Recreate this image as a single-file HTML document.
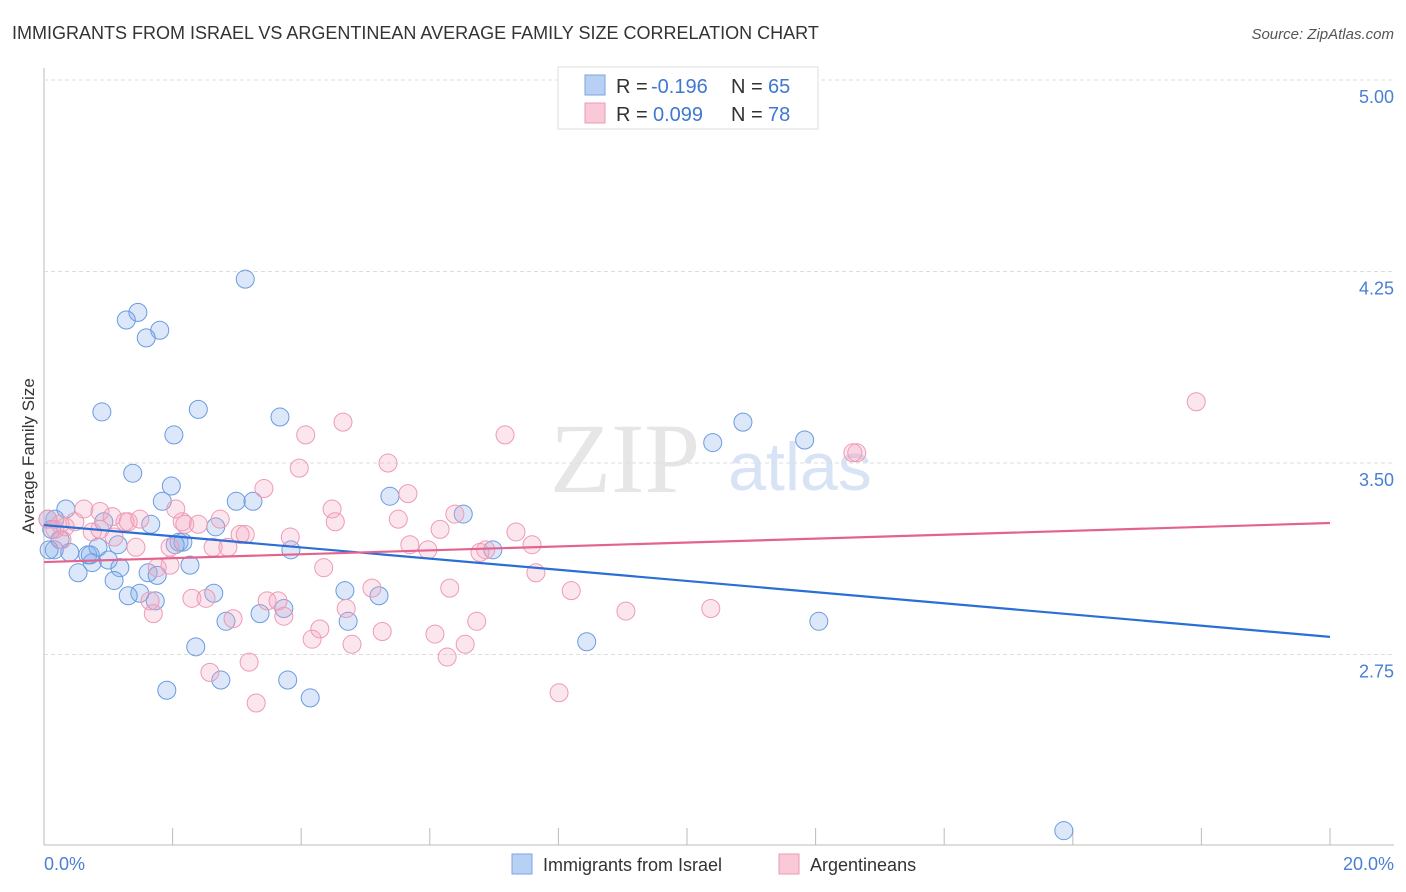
<!DOCTYPE html>
<html><head><meta charset="utf-8"><style>
body{margin:0;background:#fff;font-family:"Liberation Sans",sans-serif}
svg{display:block}
</style></head><body>
<svg id="chart" width="1406" height="892">
<text x="12" y="39" font-size="18" fill="#333">IMMIGRANTS FROM ISRAEL VS ARGENTINEAN AVERAGE FAMILY SIZE CORRELATION CHART</text>
<text x="1394" y="39" font-size="15" fill="#555" text-anchor="end" font-style="italic">Source: ZipAtlas.com</text>
<text x="625" y="492" font-size="100" fill="#e6e6e6" font-family="Liberation Serif,serif" text-anchor="middle">ZIP</text>
<text x="800" y="490" font-size="68" fill="#d8e4f5" text-anchor="middle">atlas</text>
<g id="grid"></g><g id="pts"></g><g id="lines"></g>
<text transform="translate(34,456) rotate(-90)" font-size="17" fill="#333" text-anchor="middle">Average Family Size</text>
<text x="44" y="870" font-size="18" fill="#4a7fd4">0.0%</text>
<text x="1394" y="870" font-size="18" fill="#4a7fd4" text-anchor="end">20.0%</text>
<g>
<rect x="558" y="67" width="260" height="62" fill="#fff" stroke="#ddd"/>
<rect x="585" y="75" width="20" height="20" fill="#b8d0f3" stroke="#7ba3e0"/>
<rect x="585" y="103" width="20" height="20" fill="#f9c9d7" stroke="#ec9ab4"/>
<text x="616" y="93" font-size="20" fill="#333">R =</text>
<text x="651" y="93" font-size="20" fill="#3f78d0">-0.196</text>
<text x="731" y="93" font-size="20" fill="#333">N =</text>
<text x="768" y="93" font-size="20" fill="#3f78d0">65</text>
<text x="616" y="121" font-size="20" fill="#333">R =</text>
<text x="653" y="121" font-size="20" fill="#3f78d0">0.099</text>
<text x="731" y="121" font-size="20" fill="#333">N =</text>
<text x="768" y="121" font-size="20" fill="#3f78d0">78</text>
</g>
<g>
<rect x="512" y="854" width="20" height="20" fill="#b8d0f3" stroke="#7ba3e0"/>
<text x="543" y="871" font-size="18" fill="#333">Immigrants from Israel</text>
<rect x="779" y="854" width="20" height="20" fill="#f9c9d7" stroke="#ec9ab4"/>
<text x="810" y="871" font-size="18" fill="#333">Argentineans</text>
</g>
</svg>
<script>
const yTicks=[5.00,4.25,3.50,2.75];
const xTicks=[0,2,4,6,8,10,12,14,16,18,20];
const israelX=[3.13,1.46,1.28,1.80,1.59,0.90,2.40,2.02,3.67,1.38,1.98,1.84,2.99,3.25,5.38,6.52,0.34,0.17,0.93,1.66,2.67,2.10,2.16,3.84,6.98,10.40,10.87,11.83,0.16,0.40,0.68,0.84,1.15,0.75,1.00,1.18,0.53,1.62,2.27,1.09,1.49,1.31,1.73,2.64,4.68,5.21,3.36,3.73,2.83,4.73,8.44,12.05,2.36,1.91,2.75,3.79,4.14,15.86,0.12,0.25,0.06,0.72,0.08,2.04,1.76];
const israelY=[4.22,4.09,4.06,4.02,3.99,3.70,3.71,3.61,3.68,3.46,3.41,3.35,3.35,3.35,3.37,3.30,3.32,3.28,3.27,3.26,3.25,3.19,3.19,3.16,3.16,3.58,3.66,3.59,3.16,3.15,3.14,3.17,3.18,3.11,3.12,3.09,3.07,3.07,3.10,3.04,2.99,2.98,2.96,2.99,3.00,2.98,2.91,2.93,2.88,2.88,2.80,2.88,2.78,2.61,2.65,2.65,2.58,2.06,3.24,3.20,3.28,3.14,3.16,3.18,3.06];
const argX=[17.92,4.65,4.07,7.17,3.97,5.35,3.42,5.66,4.48,6.39,4.53,5.51,6.16,7.34,7.59,6.87,5.69,5.97,12.64,12.58,0.06,0.25,0.48,0.62,0.87,1.06,1.26,1.31,0.28,0.75,1.09,1.43,1.96,2.15,2.19,2.40,2.05,2.63,2.86,3.13,2.74,3.83,4.35,1.96,1.76,1.65,1.70,2.30,2.52,2.94,3.47,3.64,3.73,4.70,5.10,6.31,8.20,9.05,10.37,4.29,4.17,4.79,5.26,6.08,6.55,6.73,6.27,2.58,3.19,3.30,8.01,7.65,0.17,0.33,0.87,1.49,3.05,6.78];
const argY=[3.74,3.66,3.61,3.61,3.48,3.50,3.40,3.38,3.32,3.30,3.27,3.28,3.24,3.23,3.18,3.16,3.18,3.16,3.54,3.54,3.28,3.26,3.27,3.32,3.31,3.29,3.27,3.27,3.20,3.23,3.21,3.17,3.17,3.27,3.26,3.26,3.32,3.17,3.17,3.22,3.28,3.21,3.09,3.10,3.09,2.96,2.91,2.97,2.97,2.89,2.96,2.96,2.90,2.93,3.01,3.01,3.00,2.92,2.93,2.85,2.81,2.79,2.84,2.83,2.79,2.88,2.74,2.68,2.72,2.56,2.60,3.07,3.24,3.25,3.24,3.28,3.22,3.15];
const israelTrend=[3.257,2.819];
const argTrend=[3.112,3.265];
const X=v=>44+v/20*1286;
const Y=v=>80+(5-v)/0.75*191.5;
const NS="http://www.w3.org/2000/svg";
function mk(tag,attrs,parent){const e=document.createElementNS(NS,tag);for(const k in attrs)e.setAttribute(k,attrs[k]);parent.appendChild(e);return e;}
const grid=document.getElementById('grid');
mk('line',{x1:44,y1:68,x2:44,y2:845,stroke:'#bbb'},grid);
mk('line',{x1:44,y1:845,x2:1394,y2:845,stroke:'#bbb'},grid);
yTicks.forEach(t=>{
  const l=mk('line',{x1:44,y1:Y(t),x2:1394,y2:Y(t),stroke:'#ddd','stroke-dasharray':'4,3'},grid);
  
  
  const tx=mk('text',{x:1394,y:Y(t)+23,'font-size':18,fill:'#4a7fd4','text-anchor':'end'},grid);
  tx.textContent=t.toFixed(2);
  
  
});
xTicks.forEach(t=>{
  const l=mk('line',{x1:X(t),y1:828,x2:X(t),y2:845,stroke:'#bbb'},grid);
  
  
});
const pts=document.getElementById('pts');
israelX.forEach((v,i)=>{
  const c=mk('circle',{cx:X(v),cy:Y(israelY[i]),r:9,fill:'rgba(130,172,235,0.28)',stroke:'#6a9be0','stroke-width':1},pts);
  
  
});
argX.forEach((v,i)=>{
  const c=mk('circle',{cx:X(v),cy:Y(argY[i]),r:9,fill:'rgba(245,165,195,0.28)',stroke:'#ee9ab5','stroke-width':1},pts);
  
  
});
const lines=document.getElementById('lines');
const bl=mk('line',{x1:X(0),y1:Y(israelTrend[0]),x2:X(20),y2:Y(israelTrend[1]),stroke:'#2a6fd6','stroke-width':2.2},lines);


const pl=mk('line',{x1:X(0),y1:Y(argTrend[0]),x2:X(20),y2:Y(argTrend[1]),stroke:'#e4638e','stroke-width':2.2},lines);


</script>
</body></html>
